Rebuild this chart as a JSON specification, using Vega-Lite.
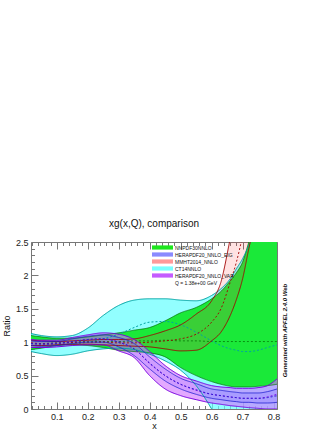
{
  "$schema": "https://vega.github.io/schema/vega-lite/v6.json",
  "width": 246,
  "height": 167,
  "autosize": {"type": "none"},
  "padding": {"left": 31, "top": 242, "right": 55, "bottom": 21},
  "background": "white",
  "title": {"text": "xg(x,Q), comparison", "fontSize": 10, "fontWeight": "normal", "font": "Liberation Sans", "color": "#111", "offset": 9, "anchor": "middle", "frame": "group"},
  "config": {
    "font": "Liberation Sans",
    "view": {"stroke": null},
    "axis": {"domainColor": "#777", "tickColor": "#777", "labelFontSize": 9, "labelColor": "#222", "titleFontSize": 9, "titleFontWeight": "normal", "titleColor": "#111", "grid": false, "labelFont": "Liberation Sans", "titleFont": "Liberation Sans", "labelOverlap": false, "labelFlush": false, "tickCount": 100}
  },
  "datasets": {
    "bands": [
      {"pdf": "NNPDF30NNLO", "x": 0.017, "lo": 0.89, "hi": 1.1, "c": 0.98},
      {"pdf": "NNPDF30NNLO", "x": 0.05, "lo": 0.91, "hi": 1.08, "c": 0.98},
      {"pdf": "NNPDF30NNLO", "x": 0.1, "lo": 0.95, "hi": 1.06, "c": 0.99},
      {"pdf": "NNPDF30NNLO", "x": 0.15, "lo": 0.96, "hi": 1.06, "c": 1.0},
      {"pdf": "NNPDF30NNLO", "x": 0.2, "lo": 0.95, "hi": 1.08, "c": 1.01},
      {"pdf": "NNPDF30NNLO", "x": 0.25, "lo": 0.92, "hi": 1.11, "c": 1.01},
      {"pdf": "NNPDF30NNLO", "x": 0.3, "lo": 0.88, "hi": 1.14, "c": 1.01},
      {"pdf": "NNPDF30NNLO", "x": 0.35, "lo": 0.86, "hi": 1.18, "c": 1.02},
      {"pdf": "NNPDF30NNLO", "x": 0.4, "lo": 0.84, "hi": 1.22, "c": 1.02},
      {"pdf": "NNPDF30NNLO", "x": 0.45, "lo": 0.78, "hi": 1.32, "c": 1.03},
      {"pdf": "NNPDF30NNLO", "x": 0.5, "lo": 0.62, "hi": 1.44, "c": 1.02},
      {"pdf": "NNPDF30NNLO", "x": 0.55, "lo": 0.5, "hi": 1.52, "c": 1.02},
      {"pdf": "NNPDF30NNLO", "x": 0.6, "lo": 0.41, "hi": 1.65, "c": 1.01},
      {"pdf": "NNPDF30NNLO", "x": 0.63, "lo": 0.37, "hi": 1.76, "c": 1.01},
      {"pdf": "NNPDF30NNLO", "x": 0.66, "lo": 0.34, "hi": 1.92, "c": 1.01},
      {"pdf": "NNPDF30NNLO", "x": 0.68, "lo": 0.33, "hi": 2.04, "c": 1.01},
      {"pdf": "NNPDF30NNLO", "x": 0.7, "lo": 0.33, "hi": 2.2, "c": 1.01},
      {"pdf": "NNPDF30NNLO", "x": 0.72, "lo": 0.33, "hi": 2.5, "c": 1.01},
      {"pdf": "NNPDF30NNLO", "x": 0.75, "lo": 0.34, "hi": 3.0, "c": 1.01},
      {"pdf": "NNPDF30NNLO", "x": 0.78, "lo": 0.35, "hi": 3.6, "c": 1.01},
      {"pdf": "NNPDF30NNLO", "x": 0.811, "lo": 0.37, "hi": 4.2, "c": 1.01},

      {"pdf": "CT14NNLO", "x": 0.017, "lo": 0.86, "hi": 1.13, "c": 0.98},
      {"pdf": "CT14NNLO", "x": 0.05, "lo": 0.83, "hi": 1.1, "c": 0.97},
      {"pdf": "CT14NNLO", "x": 0.1, "lo": 0.8, "hi": 1.08, "c": 0.96},
      {"pdf": "CT14NNLO", "x": 0.15, "lo": 0.82, "hi": 1.1, "c": 0.97},
      {"pdf": "CT14NNLO", "x": 0.2, "lo": 0.87, "hi": 1.21, "c": 1.0},
      {"pdf": "CT14NNLO", "x": 0.25, "lo": 0.9, "hi": 1.4, "c": 1.05},
      {"pdf": "CT14NNLO", "x": 0.3, "lo": 0.91, "hi": 1.55, "c": 1.12},
      {"pdf": "CT14NNLO", "x": 0.35, "lo": 0.89, "hi": 1.63, "c": 1.22},
      {"pdf": "CT14NNLO", "x": 0.4, "lo": 0.82, "hi": 1.65, "c": 1.3},
      {"pdf": "CT14NNLO", "x": 0.45, "lo": 0.72, "hi": 1.65, "c": 1.31},
      {"pdf": "CT14NNLO", "x": 0.5, "lo": 0.58, "hi": 1.63, "c": 1.26},
      {"pdf": "CT14NNLO", "x": 0.55, "lo": 0.35, "hi": 1.62, "c": 1.15},
      {"pdf": "CT14NNLO", "x": 0.6, "lo": 0.0, "hi": 1.7, "c": 1.02},
      {"pdf": "CT14NNLO", "x": 0.63, "lo": -0.25, "hi": 1.8, "c": 0.95},
      {"pdf": "CT14NNLO", "x": 0.66, "lo": -0.5, "hi": 1.95, "c": 0.9},
      {"pdf": "CT14NNLO", "x": 0.68, "lo": -0.65, "hi": 2.1, "c": 0.88},
      {"pdf": "CT14NNLO", "x": 0.7, "lo": -0.8, "hi": 2.25, "c": 0.86},
      {"pdf": "CT14NNLO", "x": 0.72, "lo": -1.0, "hi": 2.45, "c": 0.86},
      {"pdf": "CT14NNLO", "x": 0.75, "lo": -1.2, "hi": 2.85, "c": 0.88},
      {"pdf": "CT14NNLO", "x": 0.78, "lo": -1.4, "hi": 3.3, "c": 0.92},
      {"pdf": "CT14NNLO", "x": 0.811, "lo": -1.6, "hi": 3.8, "c": 0.96},

      {"pdf": "MMHT2014_NNLO", "x": 0.017, "lo": 0.95, "hi": 1.03, "c": 0.99},
      {"pdf": "MMHT2014_NNLO", "x": 0.05, "lo": 0.95, "hi": 1.02, "c": 0.98},
      {"pdf": "MMHT2014_NNLO", "x": 0.1, "lo": 0.96, "hi": 1.01, "c": 0.985},
      {"pdf": "MMHT2014_NNLO", "x": 0.15, "lo": 0.97, "hi": 1.02, "c": 0.995},
      {"pdf": "MMHT2014_NNLO", "x": 0.2, "lo": 0.97, "hi": 1.03, "c": 1.0},
      {"pdf": "MMHT2014_NNLO", "x": 0.25, "lo": 0.96, "hi": 1.04, "c": 1.0},
      {"pdf": "MMHT2014_NNLO", "x": 0.3, "lo": 0.95, "hi": 1.04, "c": 0.99},
      {"pdf": "MMHT2014_NNLO", "x": 0.35, "lo": 0.94, "hi": 1.05, "c": 0.99},
      {"pdf": "MMHT2014_NNLO", "x": 0.4, "lo": 0.93, "hi": 1.1, "c": 1.0},
      {"pdf": "MMHT2014_NNLO", "x": 0.45, "lo": 0.9, "hi": 1.17, "c": 1.02},
      {"pdf": "MMHT2014_NNLO", "x": 0.5, "lo": 0.87, "hi": 1.26, "c": 1.05},
      {"pdf": "MMHT2014_NNLO", "x": 0.55, "lo": 0.88, "hi": 1.42, "c": 1.12},
      {"pdf": "MMHT2014_NNLO", "x": 0.6, "lo": 1.02, "hi": 1.62, "c": 1.3},
      {"pdf": "MMHT2014_NNLO", "x": 0.63, "lo": 1.15, "hi": 1.9, "c": 1.5},
      {"pdf": "MMHT2014_NNLO", "x": 0.66, "lo": 1.4, "hi": 2.55, "c": 1.9},
      {"pdf": "MMHT2014_NNLO", "x": 0.68, "lo": 1.64, "hi": 3.0, "c": 2.2},
      {"pdf": "MMHT2014_NNLO", "x": 0.7, "lo": 1.95, "hi": 3.5, "c": 2.6},
      {"pdf": "MMHT2014_NNLO", "x": 0.72, "lo": 2.4, "hi": 4.0, "c": 3.1},
      {"pdf": "MMHT2014_NNLO", "x": 0.75, "lo": 3.0, "hi": 4.6, "c": 3.7},
      {"pdf": "MMHT2014_NNLO", "x": 0.78, "lo": 3.6, "hi": 5.2, "c": 4.3},
      {"pdf": "MMHT2014_NNLO", "x": 0.811, "lo": 4.2, "hi": 6.0, "c": 5.0},

      {"pdf": "HERAPDF20_NNLO_VAR", "x": 0.017, "lo": 0.92, "hi": 1.04, "c": 0.98},
      {"pdf": "HERAPDF20_NNLO_VAR", "x": 0.05, "lo": 0.92, "hi": 1.03, "c": 0.97},
      {"pdf": "HERAPDF20_NNLO_VAR", "x": 0.1, "lo": 0.93, "hi": 1.03, "c": 0.98},
      {"pdf": "HERAPDF20_NNLO_VAR", "x": 0.15, "lo": 0.95, "hi": 1.07, "c": 1.01},
      {"pdf": "HERAPDF20_NNLO_VAR", "x": 0.2, "lo": 0.96, "hi": 1.11, "c": 1.04},
      {"pdf": "HERAPDF20_NNLO_VAR", "x": 0.25, "lo": 0.96, "hi": 1.14, "c": 1.05},
      {"pdf": "HERAPDF20_NNLO_VAR", "x": 0.3, "lo": 0.87, "hi": 1.12, "c": 1.0},
      {"pdf": "HERAPDF20_NNLO_VAR", "x": 0.35, "lo": 0.77, "hi": 1.04, "c": 0.9},
      {"pdf": "HERAPDF20_NNLO_VAR", "x": 0.4, "lo": 0.5, "hi": 0.86, "c": 0.68},
      {"pdf": "HERAPDF20_NNLO_VAR", "x": 0.45, "lo": 0.3, "hi": 0.65, "c": 0.5},
      {"pdf": "HERAPDF20_NNLO_VAR", "x": 0.5, "lo": 0.2, "hi": 0.5, "c": 0.37},
      {"pdf": "HERAPDF20_NNLO_VAR", "x": 0.55, "lo": 0.14, "hi": 0.42, "c": 0.28},
      {"pdf": "HERAPDF20_NNLO_VAR", "x": 0.6, "lo": 0.09, "hi": 0.35, "c": 0.22},
      {"pdf": "HERAPDF20_NNLO_VAR", "x": 0.63, "lo": 0.07, "hi": 0.33, "c": 0.2},
      {"pdf": "HERAPDF20_NNLO_VAR", "x": 0.66, "lo": 0.05, "hi": 0.32, "c": 0.18},
      {"pdf": "HERAPDF20_NNLO_VAR", "x": 0.68, "lo": 0.04, "hi": 0.31, "c": 0.17},
      {"pdf": "HERAPDF20_NNLO_VAR", "x": 0.7, "lo": 0.03, "hi": 0.31, "c": 0.16},
      {"pdf": "HERAPDF20_NNLO_VAR", "x": 0.72, "lo": 0.02, "hi": 0.31, "c": 0.16},
      {"pdf": "HERAPDF20_NNLO_VAR", "x": 0.75, "lo": 0.01, "hi": 0.32, "c": 0.16},
      {"pdf": "HERAPDF20_NNLO_VAR", "x": 0.78, "lo": 0.0, "hi": 0.35, "c": 0.18},
      {"pdf": "HERAPDF20_NNLO_VAR", "x": 0.811, "lo": 0.0, "hi": 0.45, "c": 0.22},

      {"pdf": "HERAPDF20_NNLO_EIG", "x": 0.017, "lo": 0.95, "hi": 1.02, "c": 0.98},
      {"pdf": "HERAPDF20_NNLO_EIG", "x": 0.05, "lo": 0.94, "hi": 1.01, "c": 0.975},
      {"pdf": "HERAPDF20_NNLO_EIG", "x": 0.1, "lo": 0.95, "hi": 1.01, "c": 0.98},
      {"pdf": "HERAPDF20_NNLO_EIG", "x": 0.15, "lo": 0.98, "hi": 1.05, "c": 1.01},
      {"pdf": "HERAPDF20_NNLO_EIG", "x": 0.2, "lo": 1.0, "hi": 1.09, "c": 1.04},
      {"pdf": "HERAPDF20_NNLO_EIG", "x": 0.25, "lo": 1.0, "hi": 1.11, "c": 1.05},
      {"pdf": "HERAPDF20_NNLO_EIG", "x": 0.3, "lo": 0.93, "hi": 1.07, "c": 1.0},
      {"pdf": "HERAPDF20_NNLO_EIG", "x": 0.35, "lo": 0.8, "hi": 0.98, "c": 0.9},
      {"pdf": "HERAPDF20_NNLO_EIG", "x": 0.4, "lo": 0.6, "hi": 0.78, "c": 0.69},
      {"pdf": "HERAPDF20_NNLO_EIG", "x": 0.45, "lo": 0.42, "hi": 0.6, "c": 0.5},
      {"pdf": "HERAPDF20_NNLO_EIG", "x": 0.5, "lo": 0.3, "hi": 0.46, "c": 0.37},
      {"pdf": "HERAPDF20_NNLO_EIG", "x": 0.55, "lo": 0.22, "hi": 0.38, "c": 0.29},
      {"pdf": "HERAPDF20_NNLO_EIG", "x": 0.6, "lo": 0.16, "hi": 0.3, "c": 0.22},
      {"pdf": "HERAPDF20_NNLO_EIG", "x": 0.63, "lo": 0.14, "hi": 0.28, "c": 0.2},
      {"pdf": "HERAPDF20_NNLO_EIG", "x": 0.66, "lo": 0.12, "hi": 0.26, "c": 0.18},
      {"pdf": "HERAPDF20_NNLO_EIG", "x": 0.68, "lo": 0.11, "hi": 0.25, "c": 0.17},
      {"pdf": "HERAPDF20_NNLO_EIG", "x": 0.7, "lo": 0.1, "hi": 0.24, "c": 0.16},
      {"pdf": "HERAPDF20_NNLO_EIG", "x": 0.72, "lo": 0.1, "hi": 0.24, "c": 0.16},
      {"pdf": "HERAPDF20_NNLO_EIG", "x": 0.75, "lo": 0.09, "hi": 0.24, "c": 0.16},
      {"pdf": "HERAPDF20_NNLO_EIG", "x": 0.78, "lo": 0.09, "hi": 0.26, "c": 0.17},
      {"pdf": "HERAPDF20_NNLO_EIG", "x": 0.811, "lo": 0.1, "hi": 0.3, "c": 0.2}
    ]
  },
  "data": {"name": "bands"},
  "layer": [
    {
      "layer": [
        {
          "transform": [{"filter": "datum.pdf == 'CT14NNLO'"}],
          "mark": {"type": "area", "interpolate": "monotone", "clip": true, "fill": "#78ffff", "fillOpacity": 0.65},
          "encoding": {
            "x": {"field": "x", "type": "quantitative", "scale": {"domain": [0.017, 0.811], "nice": false, "zero": false},
              "axis": {"orient": "bottom", "title": "x", "format": "~g", "tickCount": 100,
                "values": [0.1,0.2,0.3,0.4,0.5,0.6,0.7,0.8],
                "tickSize": -7, "labelPadding": 10.5, "titlePadding": 0}},
            "y": {"field": "hi", "type": "quantitative", "scale": {"domain": [0, 2.5], "nice": false, "zero": false},
              "axis": {"orient": "left", "title": "Ratio", "format": "~g", "tickCount": 100,
                "values": [0, 0.5, 1, 1.5, 2, 2.5],
                "tickSize": -7, "labelPadding": 10, "titlePadding": 4}},
            "y2": {"field": "lo"}
          }
        },
        {
          "transform": [{"filter": "datum.pdf == 'NNPDF30NNLO'"}],
          "mark": {"type": "area", "interpolate": "monotone", "clip": true, "fill": "#1ee61e", "fillOpacity": 1},
          "encoding": {"x": {"field": "x", "type": "quantitative"}, "y": {"field": "hi", "type": "quantitative"}, "y2": {"field": "lo"}}
        },
        {
          "transform": [{"filter": "datum.pdf == 'CT14NNLO'"}],
          "mark": {"type": "area", "interpolate": "monotone", "clip": true, "fill": "#00ffff", "fillOpacity": 0.12},
          "encoding": {"x": {"field": "x", "type": "quantitative"}, "y": {"field": "hi", "type": "quantitative"}, "y2": {"field": "lo"}}
        },
        {
          "transform": [{"filter": "datum.pdf == 'MMHT2014_NNLO'"}],
          "mark": {"type": "area", "interpolate": "monotone", "clip": true, "fill": "#ff3030", "fillOpacity": 0.14},
          "encoding": {"x": {"field": "x", "type": "quantitative"}, "y": {"field": "hi", "type": "quantitative"}, "y2": {"field": "lo"}}
        },
        {
          "transform": [{"filter": "datum.pdf == 'HERAPDF20_NNLO_VAR'"}],
          "mark": {"type": "area", "interpolate": "monotone", "clip": true, "fill": "#d070ff", "fillOpacity": 0.6},
          "encoding": {"x": {"field": "x", "type": "quantitative"}, "y": {"field": "hi", "type": "quantitative"}, "y2": {"field": "lo"}}
        },
        {
          "transform": [{"filter": "datum.pdf == 'HERAPDF20_NNLO_EIG'"}],
          "mark": {"type": "area", "interpolate": "monotone", "clip": true, "fill": "#3030ff", "fillOpacity": 0.1},
          "encoding": {"x": {"field": "x", "type": "quantitative"}, "y": {"field": "hi", "type": "quantitative"}, "y2": {"field": "lo"}}
        },
        {
          "transform": [{"filter": "datum.pdf == 'NNPDF30NNLO'"}, {"fold": ["lo", "hi", "c"], "as": ["k", "v"]}],
          "mark": {"type": "line", "interpolate": "monotone", "clip": true, "strokeWidth": 0.7, "color": "#006a00"},
          "encoding": {"x": {"field": "x", "type": "quantitative"}, "y": {"field": "v", "type": "quantitative"}, "detail": {"field": "k"},
            "strokeDash": {"field": "k", "type": "nominal", "scale": {"domain": ["c", "hi", "lo"], "range": [[2, 2], [1, 0], [1, 0]]}, "legend": null}}
        },
        {
          "transform": [{"filter": "datum.pdf == 'CT14NNLO'"}, {"fold": ["lo", "hi", "c"], "as": ["k", "v"]}],
          "mark": {"type": "line", "interpolate": "monotone", "clip": true, "strokeWidth": 1, "color": "#00a3a3"},
          "encoding": {"x": {"field": "x", "type": "quantitative"}, "y": {"field": "v", "type": "quantitative"}, "detail": {"field": "k"},
            "strokeDash": {"field": "k", "type": "nominal", "legend": null}}
        },
        {
          "transform": [{"filter": "datum.pdf == 'MMHT2014_NNLO'"}, {"fold": ["lo", "hi", "c"], "as": ["k", "v"]}],
          "mark": {"type": "line", "interpolate": "monotone", "clip": true, "strokeWidth": 0.9, "color": "#a00000"},
          "encoding": {"x": {"field": "x", "type": "quantitative"}, "y": {"field": "v", "type": "quantitative"}, "detail": {"field": "k"},
            "strokeDash": {"field": "k", "type": "nominal", "legend": null}}
        },
        {
          "transform": [{"filter": "datum.pdf == 'HERAPDF20_NNLO_VAR'"}, {"fold": ["lo", "hi", "c"], "as": ["k", "v"]}],
          "mark": {"type": "line", "interpolate": "monotone", "clip": true, "strokeWidth": 1, "color": "#7a00e0"},
          "encoding": {"x": {"field": "x", "type": "quantitative"}, "y": {"field": "v", "type": "quantitative"}, "detail": {"field": "k"},
            "strokeDash": {"field": "k", "type": "nominal", "legend": null}}
        },
        {
          "transform": [{"filter": "datum.pdf == 'HERAPDF20_NNLO_EIG'"}, {"fold": ["lo", "hi", "c"], "as": ["k", "v"]}],
          "mark": {"type": "line", "interpolate": "monotone", "clip": true, "strokeWidth": 0.8, "color": "#2020d0"},
          "encoding": {"x": {"field": "x", "type": "quantitative"}, "y": {"field": "v", "type": "quantitative"}, "detail": {"field": "k"},
            "strokeDash": {"field": "k", "type": "nominal", "legend": null}}
        },
        {
          "transform": [{"filter": "false"}],
          "mark": {"type": "point", "filled": true, "clip": true},
          "encoding": {
            "x": {"field": "x", "type": "quantitative"},
            "y": {"field": "c", "type": "quantitative"},
            "color": {"field": "pdf", "type": "nominal",
              "scale": {"domain": ["NNPDF30NNLO", "HERAPDF20_NNLO_EIG", "MMHT2014_NNLO", "CT14NNLO", "HERAPDF20_NNLO_VAR", "Q = 1.38e+00 GeV"],
                        "range": ["#1ee61e", "#8a8aff", "#ff9a9a", "#7affff", "#c45cff", "transparent"]},
              "legend": {"orient": "none", "legendX": 128, "legendY": 2, "title": null, "symbolType": "M-3,-0.6H3V0.6H-3Z", "symbolSize": 49,
                "symbolOpacity": 1, "symbolFillOpacity": 1, "symbolStrokeWidth": 0, "labelFontSize": 5, "labelColor": "#111", "labelOffset": 9, "rowPadding": 0, "padding": 0}}
          }
        }
      ]
    },
    {
      "transform": [{"filter": "false"}],
      "mark": {"type": "point", "clip": true},
      "encoding": {
        "x": {"field": "x", "type": "quantitative",
          "axis": {"orient": "top", "title": null, "labels": false, "tickCount": 100, "values": [0.1,0.2,0.3,0.4,0.5,0.6,0.7,0.8], "tickSize": -7}},
        "y": {"field": "c", "type": "quantitative",
          "axis": {"orient": "right", "title": "Generated with APFEL 2.4.0 Web", "labels": false, "tickCount": 100,
            "titleFontSize": 6, "titleFontWeight": "bold", "titleFontStyle": "italic", "titleAngle": 270, "titlePadding": 10, "titleY": 88,
            "values": [0, 0.5, 1, 1.5, 2, 2.5], "tickSize": -7}}
      }
    },
    {
      "transform": [{"filter": "false"}],
      "mark": {"type": "point", "clip": true},
      "encoding": {
        "x": {"field": "x", "type": "quantitative",
          "axis": {"orient": "bottom", "title": null, "labels": false, "domain": false, "tickSize": -3.5, "tickCount": 100,
            "values": [0.02,0.04,0.06,0.08,0.12,0.14,0.16,0.18,0.22,0.24,0.26,0.28,0.32,0.34,0.36,0.38,0.42,0.44,0.46,0.48,0.52,0.54,0.56,0.58,0.62,0.64,0.66,0.68,0.72,0.74,0.76,0.78]}},
        "y": {"field": "c", "type": "quantitative",
          "axis": {"orient": "left", "title": null, "labels": false, "domain": false, "tickSize": -3.5, "tickCount": 100,
            "values": [0.1,0.2,0.3,0.4,0.6,0.7,0.8,0.9,1.1,1.2,1.3,1.4,1.6,1.7,1.8,1.9,2.1,2.2,2.3,2.4]}}
      }
    },
    {
      "transform": [{"filter": "false"}],
      "mark": {"type": "point", "clip": true},
      "encoding": {
        "x": {"field": "x", "type": "quantitative",
          "axis": {"orient": "top", "title": null, "labels": false, "domain": false, "tickSize": -3.5, "tickCount": 100,
            "values": [0.02,0.04,0.06,0.08,0.12,0.14,0.16,0.18,0.22,0.24,0.26,0.28,0.32,0.34,0.36,0.38,0.42,0.44,0.46,0.48,0.52,0.54,0.56,0.58,0.62,0.64,0.66,0.68,0.72,0.74,0.76,0.78]}},
        "y": {"field": "c", "type": "quantitative",
          "axis": {"orient": "right", "title": null, "labels": false, "domain": false, "tickSize": -3.5, "tickCount": 100,
            "values": [0.1,0.2,0.3,0.4,0.6,0.7,0.8,0.9,1.1,1.2,1.3,1.4,1.6,1.7,1.8,1.9,2.1,2.2,2.3,2.4]}}
      }
    }
  ],
  "resolve": {"axis": {"x": "independent", "y": "independent"}}
}
